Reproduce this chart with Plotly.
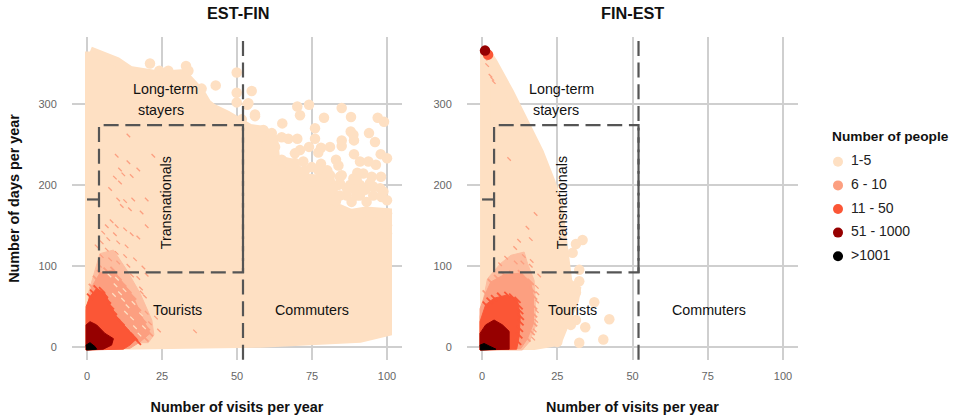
import plotly.graph_objects as go

W, H = 958, 419
PEACH, HATCH, SALMON, RED, DARK, BLACK = "#FEE0C3", "#FDBEA0", "#FC9F80", "#FB5636", "#960000", "#000000"

# ---- EST-FIN (left panel) ----
ef_cloud_x = [1,5.4,9.9,14.3,18.8,24.3,32,35.4,37.7,39.9,42,46.6,51,54.3,58.8,62.1,62.7,67.7,73.2,81,83,88,93,100,100,91,57.7,24.3,1]
ef_cloud_y = [365,358,352,341,337,335,337,323,314,300,294,286,277,269,267,257,231,227,208,205,172,164,167,165,19,11,5,2,2]
ef_pts_x = [21,24.1,27.1,33,33.8,38.2,42.9,49.9,49.9,54.9,49.9,53.8,56,51.6,53.4,70.1,74,71,79,84.9,88,96.9,99,56,65.1,76,87.9,94,88.8,89,84.9,84.9,96,76,64.9,67.1,70.1,58.8,61.6,81,78,74,71,69.3,77.1,89,97.9,100,83,91,93.8,96.3,72.1,78,83.8,80.1,90.1,84.9,94.9,98,88.8,72.7,83.8,87.7,91,95.4,98.8,100,93.2,83,86.6,89.9,77.7,74.9,71,66.6,100,100,100,92.1,89.9,84.3,82.1,86.6,89.3,92.7,95.4,98.2,94.3,97.7,84.3,88.2,91,84.3,81,78.8,77.1,74.9,69.3,64.9,62.1,59.9,57.7,62.7,57.7]
ef_pts_y = [350,341,341,347,341,319,323,339,314,316,302,301,287,281,299,297,299,286,283,295,284,283,278,285,276,270,266,264,262,255,255,248,253,257,259,257,257,268,264,247,246,247,243,239,240,238,238,233,231,229,229,225,229,226,224,218,215,212,210,210,208,218,200,200,200,198,192,181,179,180,187,187,204,204,204,200,165,150,140,214,206,202,196,196,194,194,187,185,202,196,187,179,187,210,212,214,218,222,227,231,241,249,259,247,266]
ef_hatch_x = [0.45,2.1,4.3,8.8,13.2,17.7,21.6,22.3,20.4,0.45]
ef_hatch_y = [66,87,115,119.5,95,66,33,14.5,5,5]
ef_salmon_x = [-0.3,1.6,4.3,8.8,12.1,15.4,18.8,21,17.7,14.3,-0.3]
ef_salmon_y = [45,74,91,95,78,62,33,16.5,6,-2,-4]
ef_red_x = [-0.3,1,3.2,6,7.7,9.9,13.2,16.6,14.3,12.1,-0.3]
ef_red_y = [49.5,62,72,66,52,37,23,10,2,-3,-4]
ef_dark_x = [-0.3,1,3.2,6,8.8,8.2,5.4,-0.3]
ef_dark_y = [27,31,27,16.5,10,2,-3,-4]
ef_black_x = [-0.3,1,2.7,3.2,-0.1]
ef_black_y = [2,5,0,-3,-4]
ef_streak_x = [9.9,13.8,22.1,13.8,17.1,11,12.1,14.9,9.3,11,7.7,10.4,12.7,15.4,19.9,11.6,14.3,18.2,8.2,6.6,9.9,5.4,9.3,12.7,14.9,19.9,7.1,4.9,10.4,13.2,17.1,3.2,6.6,9.9,12.7,16,4.9,7.7,10.4,13.8,18.8,19.9,17.1,4.3,36,19.3,21,19.9,18.2,23,24,18,15]
ef_streak_y = [236,261,236,228,219,219,213,211,209,203,195,182,180,182,182,174,170,166,155,149,149,141,139,145,139,149,133,129,129,124,135,124,120,116,112,108,112,108,104,100,98,89,85,100,19,62,29,42,67,36,20,72,88]
ef_light_x = [12,13.5,15,11,16,9.5,14,17.5,10,12.5,7.5,9,13,19,18,15.5]
ef_light_y = [58,50,35,66,24,76,20,15,84,70,88,64,42,24,40,54]
ef_salmon_edge_x = [1.6,3,4.3,6.5,8.8,10.5,12.1,13.8,15.4,17,18.8,20,21,19.5]
ef_salmon_edge_y = [74,84,91,94,95,86,78,70,62,48,33,24,16.5,10]
ef_red_edge_x = [1,2,3.2,5,6,7,8,9,10,11.5,13,14.5,16,17]
ef_red_edge_y = [62,67,72,70,64,57,50,43,36,30,23,17,11,6]

# ---- FIN-EST (right panel) ----
fe_cloud_x = [1,3.4,9,15,18.9,22.8,25,26.7,27.3,28.4,31.2,30.6,27.8,25,17.3,1]
fe_cloud_y = [365,352,314,269,240,203,178,129,104,79,71,58,33,7,2,2]
fe_pts_x = [33.4,31.2,30.1,32.3,32.3,37.3,42.3,34.3,40.3,32.3,31.2,29.5,25,31.2]
fe_pts_y = [132,127,116,95,81,55,34,24,9,5,33,27,6,67]
fe_hatch_x = [-0.67,1.8,6.2,9.6,14,15.1,17.3,17.7,17.7,15.7,13.4,-0.67]
fe_hatch_y = [37,84,103,113,117,103,82,58,25,6,-4,-4]
fe_salmon_x = [-0.67,1.2,2.9,7.3,12.9,16.2,17.1,17.1,15.1,12.9,-0.67]
fe_salmon_y = [47,66,80,89,91,80,62,29,10,-2,-4]
fe_red_x = [-0.67,0.1,1.2,4,8.4,11.8,12.7,12.3,11.5,-0.67]
fe_red_y = [31,41,52,60,64,58,37,12,-3,-4]
fe_dark_x = [-0.67,1.2,4,6.8,9,9,-0.67]
fe_dark_y = [16.5,27,33,27,19,-3,-4]
fe_black_x = [-0.67,0.7,2.3,4.6,-0.45]
fe_black_y = [2,4,1,-3,-4]
fe_streak_x = [9,17.8,15.1,12.3,16.2,13.9,11.2,16.2,3.9,2.8,1.7,3.4,1.2,13.4,16.5,18.2,18.4,18.3,18.2,18,17.5,17,19,6,8,11]
fe_streak_y = [232,164,147,131,133,112,104,100,327,335,348,331,356,104,106,74,66,56,44,32,20,10,88,102,110,122]
fe_salmon_edge_x = [1.2,2.9,5,7.3,10,12.9,16.2,16.8,17.3,17.3,17.3,17.3,16.5,15.1]
fe_salmon_edge_y = [66,80,85,89,90,91,80,70,62,50,40,29,18,10]
fe_red_edge_x = [1.2,2.5,4,6,8.4,10,11.8,12.5,12.7,12.9,12.8,12.6,12.4,12]
fe_red_edge_y = [52,57,60,63,64,62,58,50,44,37,30,22,14,6]
fe_top_x = [2]
fe_top_y = [361]
fe_topdark_x = [1]
fe_topdark_y = [366]

# ---- reference lines (data units) ----
visits_cut = 52
box_x = [4, 4, 52, 52, 4]
box_y = [92, 274, 274, 92, 92]
notch_x = [0, 4]
notch_y = [182, 182]

# ---- legend ----
legend_labels = ["1-5", "6 - 10", "11 - 50", "51 - 1000", ">1001"]
legend_colors = [PEACH, SALMON, RED, DARK, BLACK]

x_ticks = [0, 25, 50, 75, 100]
y_ticks = [0, 100, 200, 300]

fig = go.Figure()

def polygon(x, y, color, width, xa, ya):
    fig.add_trace(go.Scatter(x=x + x[:1], y=y + y[:1], xaxis=xa, yaxis=ya, mode="lines", fill="toself",
                             fillcolor=color, line=dict(color=color, width=width),
                             hoverinfo="skip", showlegend=False))

def dots(x, y, color, xa, ya, size=10.5):
    fig.add_trace(go.Scatter(x=x, y=y, xaxis=xa, yaxis=ya, mode="markers",
                             marker=dict(color=color, size=size), hoverinfo="skip", showlegend=False))

def streaks(x, y, color, xa, ya, size=3.5, width=1.3):
    fig.add_trace(go.Scatter(x=x, y=y, xaxis=xa, yaxis=ya, mode="markers",
                             marker=dict(symbol="line-nw", size=size, color=color,
                                         line=dict(color=color, width=width)),
                             hoverinfo="skip", showlegend=False))

def guides(xa, ya):
    for gx, gy in ((box_x, box_y), ([visits_cut, visits_cut], [-16, 380]), (notch_x, notch_y)):
        fig.add_trace(go.Scatter(x=gx, y=gy, xaxis=xa, yaxis=ya, mode="lines",
                                 line=dict(color="#555555", width=2.2, dash="15px,6.7px" if gx is not notch_x else "solid"),
                                 hoverinfo="skip", showlegend=False))

# left
polygon(ef_cloud_x, ef_cloud_y, PEACH, 10, "x", "y")
dots(ef_pts_x, ef_pts_y, PEACH, "x", "y")
polygon(ef_hatch_x, ef_hatch_y, HATCH, 1, "x", "y")
streaks(ef_streak_x, ef_streak_y, SALMON, "x", "y")
polygon(ef_salmon_x, ef_salmon_y, SALMON, 1, "x", "y")
streaks(ef_salmon_edge_x, ef_salmon_edge_y, SALMON, "x", "y", 6, 1.8)
streaks(ef_light_x, ef_light_y, PEACH, "x", "y")
polygon(ef_red_x, ef_red_y, RED, 1, "x", "y")
streaks(ef_red_edge_x, ef_red_edge_y, RED, "x", "y", 6, 1.8)
polygon(ef_dark_x, ef_dark_y, DARK, 1, "x", "y")
polygon(ef_black_x, ef_black_y, BLACK, 1, "x", "y")
guides("x", "y")

# right
polygon(fe_cloud_x, fe_cloud_y, PEACH, 10, "x2", "y2")
dots(fe_pts_x, fe_pts_y, PEACH, "x2", "y2")
polygon(fe_hatch_x, fe_hatch_y, HATCH, 1, "x2", "y2")
streaks(fe_streak_x, fe_streak_y, SALMON, "x2", "y2")
polygon(fe_salmon_x, fe_salmon_y, SALMON, 1, "x2", "y2")
streaks(fe_salmon_edge_x, fe_salmon_edge_y, SALMON, "x2", "y2", 6, 1.8)
polygon(fe_red_x, fe_red_y, RED, 1, "x2", "y2")
streaks(fe_red_edge_x, fe_red_edge_y, RED, "x2", "y2", 6, 1.8)
polygon(fe_dark_x, fe_dark_y, DARK, 1, "x2", "y2")
polygon(fe_black_x, fe_black_y, BLACK, 1, "x2", "y2")
dots(fe_top_x, fe_top_y, RED, "x2", "y2")
dots(fe_topdark_x, fe_topdark_y, DARK, "x2", "y2")
guides("x2", "y2")

# legend keys and labels
fig.add_trace(go.Scatter(x=[0]*len(legend_labels), y=legend_labels, xaxis="x3", yaxis="y3",
                         mode="markers", marker=dict(color=legend_colors, size=10),
                         hoverinfo="skip", showlegend=False))
fig.add_trace(go.Scatter(x=[13]*len(legend_labels), y=legend_labels, xaxis="x3", yaxis="y3",
                         mode="text", text=legend_labels, textposition="middle right",
                         textfont=dict(family="Liberation Sans", size=14, color="#222222"),
                         hoverinfo="skip", showlegend=False))

def dom(a, b, total):
    return [a / total, b / total]

ydom = [1 - 360 / H, 1 - 37 / H]
tick = dict(family="Liberation Sans", size=11, color="#666666")
common_x = dict(range=[-5, 105], tickvals=x_ticks, showgrid=True, gridcolor="#CFCFCF", gridwidth=1.8,
                zeroline=False, showline=False, ticks="outside", ticklen=6, tickcolor="rgba(0,0,0,0)", tickfont=tick,
                title=dict(text="<b>Number of visits per year</b>", standoff=20,
                           font=dict(family="Liberation Sans", size=14.4, color="#111111")))
common_y = dict(range=[-16.4, 382.8], tickvals=y_ticks, showgrid=True, gridcolor="#CFCFCF", gridwidth=1.8,
                zeroline=False, showline=False, ticks="outside", ticklen=12, tickcolor="rgba(0,0,0,0)", tickfont=tick)

fig.update_layout(
    width=W, height=H, autosize=False, margin=dict(l=0, r=0, t=0, b=0),
    paper_bgcolor="white", plot_bgcolor="white", showlegend=False,
    xaxis=dict(domain=dom(72, 402, W), anchor="y", **common_x),
    yaxis=dict(domain=ydom, anchor="x",
               title=dict(text="<b>Number of days per year</b>", standoff=15,
                          font=dict(family="Liberation Sans", size=14.4, color="#111111")), **common_y),
    xaxis2=dict(domain=dom(467, 798, W), anchor="y2", **common_x),
    yaxis2=dict(domain=ydom, anchor="x2", **common_y),
    xaxis3=dict(domain=dom(830, 950, W), anchor="y3", range=[-8, 112], visible=False),
    yaxis3=dict(domain=[1 - 268 / H, 1 - 150 / H], anchor="x3", type="category",
                categoryorder="array", categoryarray=legend_labels, range=[4.5, -0.5], visible=False),
)

anns = []
def label(text, x, y, xref, yref, size=14.3, angle=0, anchor="center", color="#111111"):
    anns.append(dict(text=text, x=x, y=y, xref=xref, yref=yref, showarrow=False, textangle=angle,
                     xanchor=anchor, yanchor="middle", font=dict(family="Liberation Sans", size=size, color=color)))

for xr, yr, pos in (("x", "y", [(26.3, 318), (24.6, 293), (30.1, 45), (74.9, 45), (26.2, 178)]),
                    ("x2", "y2", [(26.5, 318), (24.6, 293), (30.2, 45), (75.3, 45), (26.4, 178)])):
    label("Long-term", *pos[0], xr, yr)
    label("stayers", *pos[1], xr, yr)
    label("Tourists", *pos[2], xr, yr)
    label("Commuters", *pos[3], xr, yr)
    label("Transnationals", *pos[4], xr, yr, angle=-90)

label("<b>EST-FIN</b>", 238 / W, 1 - 13 / H, "paper", "paper", size=16.3)
label("<b>FIN-EST</b>", 632 / W, 1 - 13 / H, "paper", "paper", size=16.3)
label("<b>Number of people</b>", 830 / W, 1 - 136 / H, "paper", "paper", size=13.7, anchor="left")
fig.update_layout(annotations=anns)

fig.write_html("out.html", config=dict(displayModeBar=False),
               post_script="document.body.style.margin='0';window.dispatchEvent(new Event('resize'));")
